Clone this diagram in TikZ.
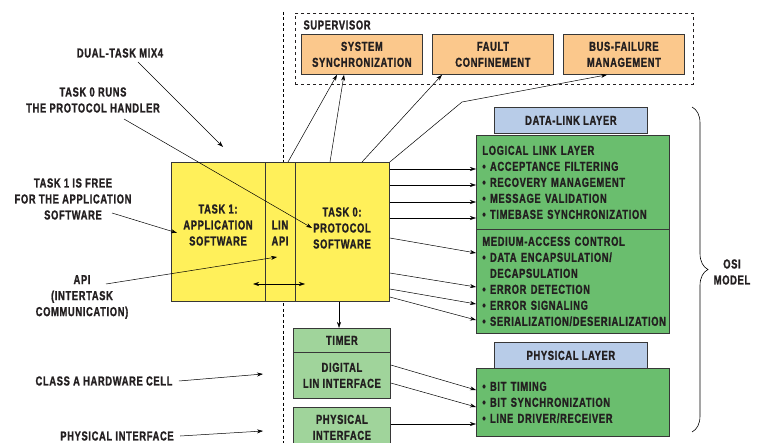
\documentclass[tikz,border=0pt]{standalone}
\usepackage{fontspec}
\setmainfont{Liberation Sans Bold}[FakeStretch=0.72, LetterSpace=5, FakeBold=1.2]
\usetikzlibrary{arrows.meta,decorations.pathreplacing}

\definecolor{ink}{RGB}{35,31,32}
\definecolor{frame}{RGB}{55,55,55}
\definecolor{orangefill}{RGB}{251,200,140}
\definecolor{greenfill}{RGB}{106,190,110}
\definecolor{lightgreen}{RGB}{160,212,155}
\definecolor{bluefill}{RGB}{184,204,232}
\definecolor{yellowfill}{RGB}{255,240,90}

\begin{document}
\begin{tikzpicture}[
  x=1pt, y=-1pt, % Pixelraster
  font=\fontsize{13}{16}\selectfont,
  text=ink,
  box/.style={draw=frame, line width=0.8pt, anchor=north west, inner sep=0pt, align=center},
  obox/.style={box, fill=orangefill, minimum width=121, minimum height=40},
  bbox/.style={box, fill=bluefill, minimum width=153, minimum height=26},
  gbox/.style={box, fill=greenfill, align=left, inner xsep=6pt, text width=181},
  lgbox/.style={box, fill=lightgreen, minimum width=97},
  ybox/.style={box, fill=yellowfill, minimum height=139},
  arr/.style={-{Stealth[length=6pt,width=4pt]}, line width=0.5pt},
  lbl/.style={align=center}
  ]
\useasboundingbox (0,0) rectangle (757,443);
\clip (0,0) rectangle (757,443);
% Trennlinie Software / Hardware
\draw[line width=0.8pt, dash pattern=on 3pt off 2.5pt] (283,12) -- (283,443);
% Supervisor
\node[box, draw=ink, dashed, minimum width=398, minimum height=71] (sup) at (295,13) {};
\node[anchor=west] (suplbl) at (300,25) {SUPERVISOR};
\node[obox] (sync) at (301,34) {SYSTEM\\SYNCHRONIZATION};
\node[obox] (fault) at (432,34) {FAULT\\CONFINEMENT};
\node[obox] (bus) at (563,34) {BUS-FAILURE\\MANAGEMENT};
% Tasks
\node[ybox, minimum width=94] (app) at (171,162) {};
\node[ybox, minimum width=30] (lin) at (265,162) {};
\node[ybox, minimum width=94] (proto) at (295,162) {};
\node[lbl] (apptxt) at (218,225) {TASK 1:\\APPLICATION\\SOFTWARE};
\node[lbl] (lintxt) at (280,233) {LIN\\API};
\node[lbl] (prototxt) at (342,228) {TASK 0:\\PROTOCOL\\SOFTWARE};
% Hardware
\node[lgbox, minimum height=24] (timer) at (293,328) {TIMER};
\node[lgbox, minimum height=46] (dig) at (293,352) {DIGITAL\\LIN INTERFACE};
\node[lgbox, minimum height=40] (pif) at (293,407) {PHYSICAL\\INTERFACE};
% OSI-Schichten
\node[bbox] (dll) at (494,107) {DATA-LINK LAYER};
\node[gbox, minimum height=94] (llc) at (476,135) {LOGICAL LINK LAYER\\
  \textbullet\ ACCEPTANCE FILTERING\\
  \textbullet\ RECOVERY MANAGEMENT\\
  \textbullet\ MESSAGE VALIDATION\\
  \textbullet\ TIMEBASE SYNCHRONIZATION};
\node[gbox, minimum height=104] (mac) at (476,229) {MEDIUM-ACCESS CONTROL\\
  \textbullet\ DATA ENCAPSULATION/\\
  \hphantom{\textbullet\ }DECAPSULATION\\
  \textbullet\ ERROR DETECTION\\
  \textbullet\ ERROR SIGNALING\\
  \mbox{\textbullet\ SERIALIZATION/DESERIALIZATION}};
\node[bbox] (phl) at (494,342) {PHYSICAL LAYER};
\node[gbox, minimum height=68] (phy) at (476,368) {\textbullet\ BIT TIMING\\
  \textbullet\ BIT SYNCHRONIZATION\\
  \textbullet\ LINE DRIVER/RECEIVER};
\draw[decorate, decoration={brace, amplitude=16pt}, line width=0.6pt] (692,107) -- (692,432);
\node[lbl] (osi) at (732,272) {OSI\\MODEL};
% Beschriftungen links
\node[lbl] (lblmix) at (120,53) {DUAL-TASK MIX4};
\node[lbl] (lblrun) at (93,100) {TASK 0 RUNS\\THE PROTOCOL HANDLER};
\node[lbl] (lblfree) at (73,199) {TASK 1 IS FREE\\FOR THE APPLICATION\\SOFTWARE};
\node[lbl] (lblapi) at (82,297) {API\\(INTERTASK\\COMMUNICATION)};
\node[lbl] (lblcell) at (104,381) {CLASS A HARDWARE CELL};
\node[lbl] (lblphys) at (117,436) {PHYSICAL INTERFACE};
\coordinate (mixend) at (223,147);
\coordinate (runend) at (312,228);
\coordinate (apiend) at (277,257);
\coordinate (apil) at (253,284);
\coordinate (apir) at (305,284);
\coordinate (cellend) at (263,374);
\coordinate (physend) at (263,431);
\coordinate (busknee) at (462,102);
\draw[arr] ([shift={(18,9)}]lblmix.center) -- (mixend);
\draw[arr] ([shift={(31,19)}]lblrun.center) -- (runend);
\draw[arr] ([shift={(39,14)}]lblfree.center) -- ([xshift=6pt,yshift=-1pt]app.west);
\draw[arr] ([shift={(24,-13)}]lblapi.center) -- (apiend);
\draw[{Stealth[length=6pt,width=4pt]}-{Stealth[length=6pt,width=4pt]}, line width=0.5pt] (apil) -- (apir);
\draw[arr] ([xshift=3pt]lblcell.east) -- (cellend);
\draw[arr] ([xshift=3pt]lblphys.east) -- (physend);
% Verbindungen zum Supervisor
\draw[arr] (lin.north -| 288,0) -- (sync.south -| 337,0);
\draw[arr] (proto.north -| 330,0) -- (sync.south -| 344,0);
\draw[arr] (proto.north -| 362,0) -- (fault.south -| 442,0);
\draw[arr] (proto.north east) -- (busknee) -- (bus.south -| 607,0);
% Verbindungen zu den Schichten
\foreach \y in {169,185,202,218}
  \draw[arr] (proto.east |- 0,\y) -- (llc.west |- 0,\y);
\foreach \a/\b in {238/253,273/287,289/304,297/320}
  \draw[arr] (proto.east |- 0,\a) -- (mac.west |- 0,\b);
\draw[arr] (proto.south -| 339,0) -- (timer.north -| 339,0);
\draw[arr] (dig.east |- 0,365) -- (phy.west |- 0,390);
\draw[arr] (dig.east |- 0,383) -- (phy.west |- 0,407);
\draw[arr] (pif.east |- 0,424) -- (phy.west |- 0,424);
\end{tikzpicture}
\end{document}
